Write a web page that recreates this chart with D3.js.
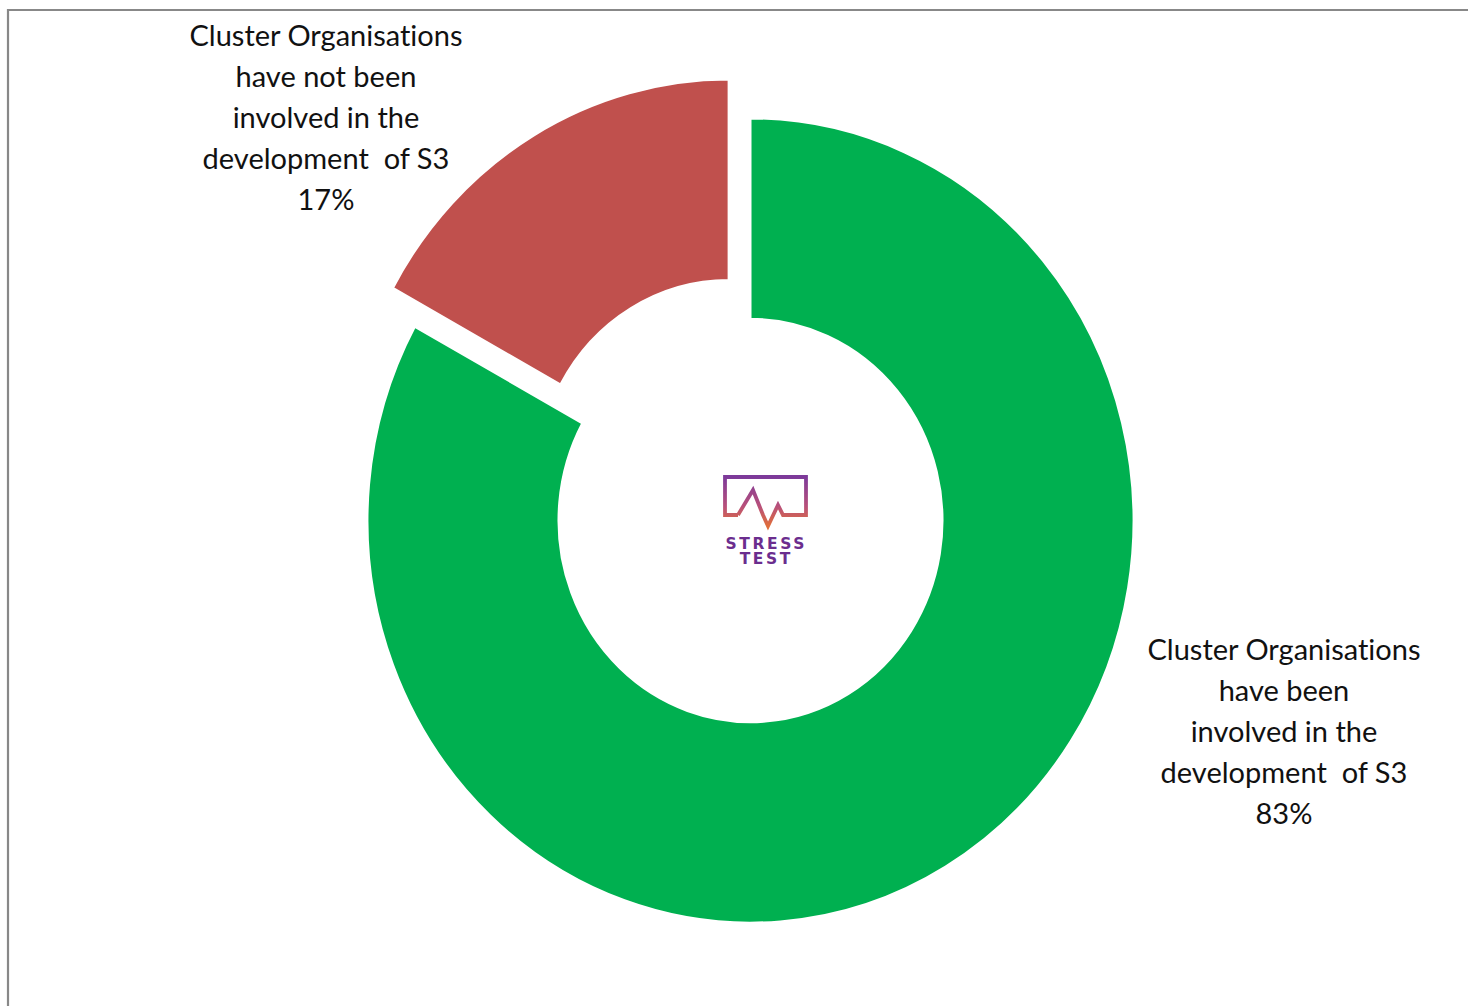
<!DOCTYPE html>
<html>
<head>
<meta charset="utf-8">
<script src="https://cdn.jsdelivr.net/npm/d3@7"></script>
<style>
  html, body { margin: 0; padding: 0; background: #fff; }
  svg { display: block; }
  text { white-space: pre; font-variant-ligatures: none; font-feature-settings: "liga" 0, "clig" 0; }
</style>
</head>
<body>
<svg id="chart" width="1468" height="1006"></svg>
<script>
// ---- data ----
const categories = ["have been involved", "have not been involved"];
const values = [83, 17];
const colors = ["#00B050", "#C0504D"];
const exploded = [false, true];
const labelLines = [
  ["Cluster Organisations", "have been", "involved in the", "development  of S3", "83%"],
  ["Cluster Organisations", "have not been", "involved in the", "development  of S3", "17%"]
];
const logoLines = ["STRESS", "TEST"];

// ---- layout ----
const svg = d3.select("#chart");
const cx = 750.5, cy = 520.5, sy = 1.05;
const outerR = 383, innerR = 192, explodeDist = 43;

// border frame
svg.append("path")
  .attr("d", "M8,1010 L8,10 L1470,10")
  .attr("fill", "none")
  .attr("stroke", "#888")
  .attr("stroke-width", 2.2);

const pie = d3.pie().sort(null).value(d => d).startAngle(0).endAngle(2 * Math.PI);
const arcs = pie(values);
const arc = d3.arc().innerRadius(innerR).outerRadius(outerR);

const g = svg.append("g").attr("transform", `translate(${cx},${cy}) scale(1,${sy})`);
g.selectAll("path.slice")
  .data(arcs)
  .join("path")
  .attr("class", "slice")
  .attr("d", arc)
  .attr("fill", (d, i) => colors[i])
  .attr("stroke", "#fff")
  .attr("stroke-width", 2)
  .attr("transform", (d, i) => {
    if (!exploded[i]) return null;
    const a = (d.startAngle + d.endAngle) / 2;
    return `translate(${Math.sin(a) * explodeDist},${-Math.cos(a) * explodeDist})`;
  });

// labels
const labelPos = [
  { x: 1284, y: 660 },
  { x: 326, y: 46 }
];
const lineH = 40.9;
labelLines.forEach((lines, i) => {
  const t = svg.append("text")
    .attr("text-anchor", "middle")
    .attr("font-family", "Lato, 'Open Sans', sans-serif")
    .attr("font-size", 29)
    .attr("fill", "#111");
  lines.forEach((ln, j) => {
    t.append("tspan")
      .attr("x", labelPos[i].x)
      .attr("y", labelPos[i].y + j * lineH)
      .text(ln);
  });
});

// centre logo
const defs = svg.append("defs");
const grad = defs.append("linearGradient")
  .attr("id", "logoGrad").attr("x1", 0).attr("y1", 0).attr("x2", 0).attr("y2", 1);
grad.append("stop").attr("offset", "0%").attr("stop-color", "#7D3A9A");
grad.append("stop").attr("offset", "60%").attr("stop-color", "#B8507A");
grad.append("stop").attr("offset", "100%").attr("stop-color", "#E06E3A");

const logoPts = [[738,515],[725,515],[725,477],[806,477],[806,515],[783,515],[778,505],[768,526],[763,515],[753,490],[738,515]];
svg.append("path")
  .attr("d", d3.line()(logoPts))
  .attr("fill", "none")
  .attr("stroke", "url(#logoGrad)")
  .attr("stroke-width", 3.8)
  .attr("stroke-linejoin", "miter");

const logoSpacing = 2.6;
const logoText = svg.append("text")
  .attr("text-anchor", "middle")
  .attr("font-family", "'DejaVu Sans', sans-serif")
  .attr("font-weight", "bold")
  .attr("font-size", 15.5)
  .attr("letter-spacing", logoSpacing)
  .attr("fill", "#6B2D8E");
logoLines.forEach((ln, j) => {
  logoText.append("tspan")
    .attr("x", 765 + logoSpacing / 2)
    .attr("y", 548.5 + j * 15.2)
    .text(ln);
});
</script>
</body>
</html>
